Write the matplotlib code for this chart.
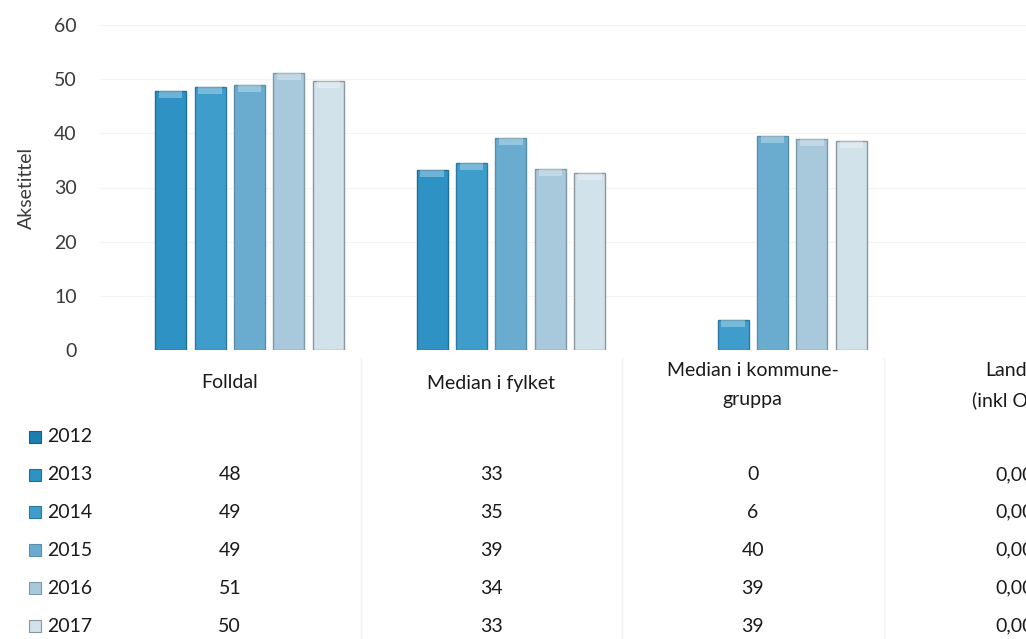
import numpy as np
import matplotlib.pyplot as plt
from matplotlib.transforms import blended_transform_factory

plt.rcParams['font.family'] = ['Lato', 'DejaVu Sans']

categories = ['Folldal', 'Median i fylket', 'Median i kommune-\ngruppa', 'Landet\n(inkl Oslo)']
years = ['2012', '2013', '2014', '2015', '2016', '2017']

# values per year, one entry per category (2012 has no data)
v2012 = [np.nan, np.nan, np.nan, np.nan]
v2013 = [47.8, 33.2, 0.0, 0.0]
v2014 = [48.6, 34.6, 5.6, 0.0]
v2015 = [48.9, 39.1, 39.5, 0.0]
v2016 = [51.2, 33.5, 38.9, 0.0]
v2017 = [49.6, 32.6, 38.6, 0.0]
series = [v2012, v2013, v2014, v2015, v2016, v2017]

colors = ['#1d7fb0', '#2e93c4', '#3e9dca', '#6aacd0', '#a8c9db', '#d2e2ea']
edges = ['#1a5f80', '#206f94', '#2d7aa0', '#5a8ea8', '#7f98a6', '#8a979e']

W, H = 1026, 639
FS = 14
fig = plt.figure(figsize=(W / 100, H / 100), dpi=100)
fig.patch.set_facecolor('white')

# axes runs past the right edge, the original is cropped there
ax = fig.add_axes([99 / W, 1 - 350 / H, 1046 / W, 325 / H])
ax.set_xlim(-0.5, 3.5)
ax.set_ylim(0, 60)
ax.set_yticks(range(0, 61, 10))
ax.tick_params(axis='y', length=0, pad=16, labelsize=FS, labelcolor='#3a3a3a')
ax.set_xticks([])
for s in ax.spines.values():
    s.set_visible(False)
ax.grid(axis='y', color='#f4f4f4', linewidth=0.8)
ax.set_axisbelow(True)
ax.set_ylabel('Aksetittel', fontsize=FS, color='#3a3a3a')
ax.yaxis.set_label_coords(-64 / 1046, 0.5)

x = np.arange(len(categories))
slot = 0.151
bw = 0.1185
for i, vals in enumerate(series):
    v = np.array(vals, dtype=float)
    v[v <= 0] = np.nan
    pos = x + (i - 2.5) * slot
    ax.bar(pos, v, width=bw, color=colors[i], edgecolor=edges[i], linewidth=1.0)
    # lighter bevel at the top of each bar
    ax.bar(pos, np.full_like(v, 1.3), bottom=v - 1.3, width=bw * 0.75,
           color='white', alpha=0.3, linewidth=0)

# data table below the plot
tr = blended_transform_factory(ax.transData, fig.transFigure)
for j, cat in enumerate(categories):
    lines = cat.split('\n')
    if len(lines) == 1:
        ax.text(j, 1 - 383 / H, cat, transform=tr, ha='center', va='center',
                fontsize=FS, color='#1a1a1a')
    else:
        ax.text(j, 1 - 370 / H, lines[0], transform=tr, ha='center', va='center',
                fontsize=FS, color='#1a1a1a')
        ax.text(j, 1 - 400 / H, lines[1], transform=tr, ha='center', va='center',
                fontsize=FS, color='#1a1a1a')

for b in [0.5, 1.5, 2.5]:
    ax.plot([b, b], [1 - 358 / H, 0], transform=tr, color='#f3f3f3',
            linewidth=1.0, clip_on=False)

row_y = [437, 475, 512, 550, 588, 626]
for i, (yr, vals) in enumerate(zip(years, series)):
    yy = 1 - row_y[i] / H
    fig.patches.append(plt.Rectangle((29 / W, yy - 6 / H), 12 / W, 12 / H,
                                     transform=fig.transFigure,
                                     facecolor=colors[i], edgecolor=edges[i],
                                     linewidth=0.8))
    fig.text(47 / W, yy, yr, ha='left', va='center', fontsize=FS, color='#1a1a1a')
    for j, v in enumerate(vals):
        if np.isnan(v):
            continue
        if j == 3:
            txt = f'{v:.2f}'.replace('.', ',')
        else:
            txt = f'{v:.0f}'
        ax.text(j, yy, txt, transform=tr, ha='center', va='center',
                fontsize=FS, color='#1a1a1a')

fig.savefig('out.png', dpi=100)
